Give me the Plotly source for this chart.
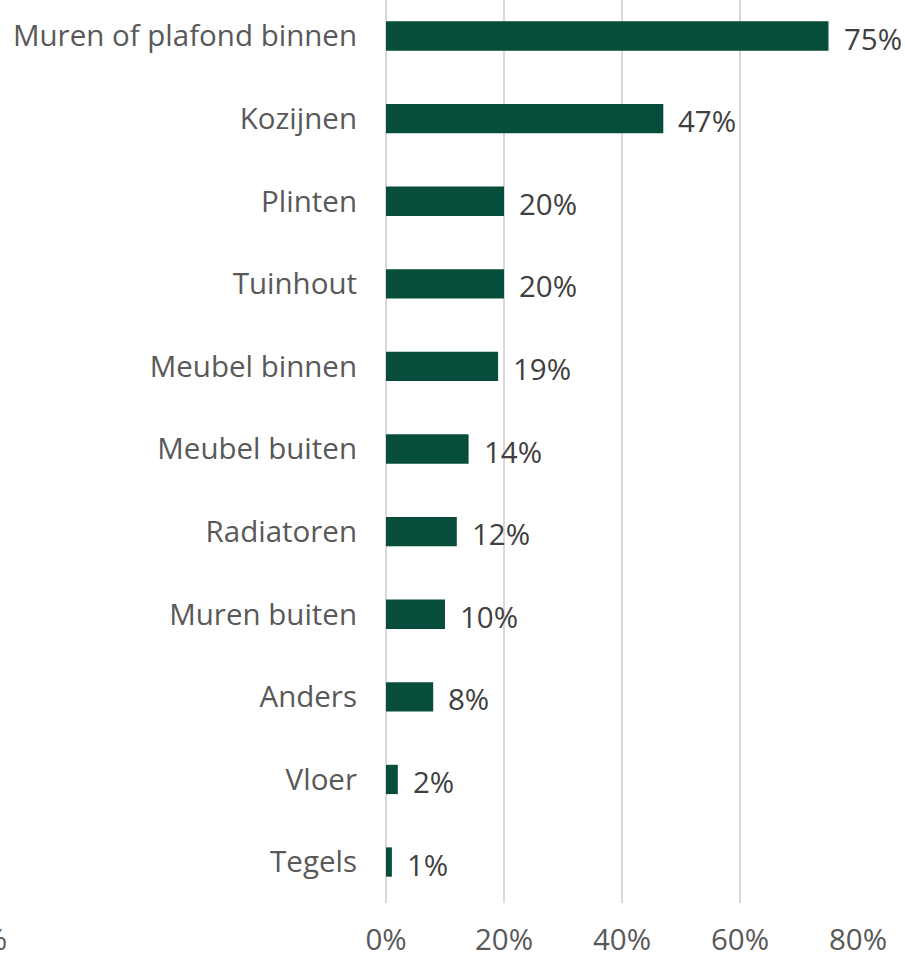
import plotly.graph_objects as go

categories = [
    "Muren of plafond binnen", "Kozijnen", "Plinten", "Tuinhout",
    "Meubel binnen", "Meubel buiten", "Radiatoren", "Muren buiten",
    "Anders", "Vloer", "Tegels",
]
values = [75, 47, 20, 20, 19, 14, 12, 10, 8, 2, 1]
x_ticks = [0, 20, 40, 60, 80]
x_tick_labels = ["0%", "20%", "40%", "60%", "80%"]

green = "#064e3b"
label_grey = "#595959"
font_size = 29.5

fig = go.Figure(
    go.Bar(
        x=values,
        y=categories,
        orientation="h",
        marker=dict(color=green, line=dict(width=0)),
        hoverinfo="x+y",
    )
)

# value labels right of each bar
for cat, val in zip(categories, values):
    fig.add_annotation(
        x=val, y=cat, text=f"{val}%", showarrow=False,
        xanchor="left", yanchor="middle", xshift=13, yshift=-2,
        font=dict(size=font_size, color="#404040"),
    )

# clipped tick label remnant at the far left
fig.add_annotation(
    x=(9 - 386) / 472, y=-0.039, xref="paper", yref="paper",
    text="0%", showarrow=False, xanchor="right", yanchor="middle",
    font=dict(size=font_size, color=label_grey),
)

fig.update_xaxes(
    range=[0, 80],
    tickvals=x_ticks,
    ticktext=x_tick_labels,
    showgrid=True,
    gridcolor="#d9d9d9",
    gridwidth=2,
    zeroline=True,
    zerolinecolor="#d9d9d9",
    zerolinewidth=2,
    showline=False,
    ticks="",
    ticklabelstandoff=16,
    automargin=False,
    tickfont=dict(size=font_size, color=label_grey),
)

fig.update_yaxes(
    type="category",
    categoryorder="array",
    categoryarray=categories,
    range=[10.496, -0.436],
    showgrid=False,
    zeroline=False,
    ticks="",
    ticklabelstandoff=28,
    automargin=False,
    tickfont=dict(size=font_size, color=label_grey),
)

fig.update_layout(
    width=905,
    height=955,
    margin=dict(l=386, r=47, t=0, b=52),
    bargap=0.645,
    plot_bgcolor="white",
    paper_bgcolor="white",
    font=dict(family="Open Sans, sans-serif"),
    showlegend=False,
)

fig.write_html(
    "out.html",
    config={"displayModeBar": False},
    post_script="document.body.style.margin='0';",
)
